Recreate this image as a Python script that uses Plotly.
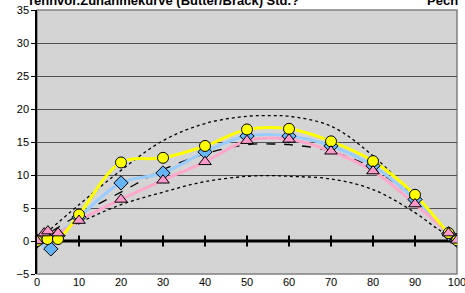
import plotly.graph_objects as go

# Data
x_yellow = [0, 2.5, 5, 10, 20, 30, 40, 50, 60, 70, 80, 90, 98, 100]
y_yellow = [0, 0.3, 0.3, 4.0, 11.9, 12.6, 14.4, 16.9, 17.0, 15.1, 12.1, 7.0, 1.2, 0.1]

x_blue = [0, 3.3, 5, 10, 20, 30, 40, 50, 60, 70, 80, 90, 98, 100]
y_blue = [0, -1.2, 0.8, 3.6, 8.8, 10.3, 13.5, 15.9, 15.9, 14.4, 11.4, 6.3, 1.1, 0.1]

x_pink = [0, 1.7, 2.6, 5, 10, 20, 30, 40, 50, 60, 70, 80, 90, 98, 100]
y_pink = [0, 1.2, 1.5, 1.2, 3.1, 6.3, 9.2, 12.0, 15.2, 15.4, 13.6, 10.6, 5.6, 1.2, 0.1]

x_curve = [0, 10, 20, 30, 40, 50, 56, 60, 70, 80, 90, 95, 100]
y_upper = [0, 5.5, 10.7, 15.2, 17.8, 18.9, 19.0, 18.9, 17.4, 12.9, 6.6, 3.0, 0]
y_mid = [0, 4.0, 7.4, 10.8, 13.2, 14.6, 14.7, 14.6, 13.6, 11.0, 6.3, 3.0, 0]
y_lower = [0, 2.8, 5.5, 7.4, 9.0, 9.8, 9.9, 9.8, 9.4, 7.8, 4.3, 2.0, 0]

x_ticks = [0, 10, 20, 30, 40, 50, 60, 70, 80, 90, 100]
zero_line = [0] * len(x_ticks)

title_left = "Tennvor.Zunahmekurve (Butter/Brack) Std.?"
title_right = "Pech"

fig = go.Figure()

# zero axis with tick marks
fig.add_trace(go.Scatter(x=x_ticks, y=zero_line, mode="lines+markers",
                         line=dict(color="black", width=3),
                         marker=dict(symbol="line-ns-open", size=8,
                                     line=dict(color="black", width=2)),
                         hoverinfo="skip"))

fig.add_trace(go.Scatter(x=x_curve, y=y_upper, mode="lines", line_shape="spline",
                         line=dict(color="black", width=1.3, dash="dot")))
fig.add_trace(go.Scatter(x=x_curve, y=y_mid, mode="lines", line_shape="spline",
                         line=dict(color="black", width=1.3, dash="dash")))
fig.add_trace(go.Scatter(x=x_curve, y=y_lower, mode="lines", line_shape="spline",
                         line=dict(color="black", width=1.3, dash="dot")))

fig.add_trace(go.Scatter(x=x_blue, y=y_blue, mode="lines", line_shape="spline",
                         line=dict(color="#99CCFF", width=3)))
fig.add_trace(go.Scatter(x=x_pink, y=y_pink, mode="lines", line_shape="spline",
                         line=dict(color="#FFA8CC", width=3)))
fig.add_trace(go.Scatter(x=x_yellow, y=y_yellow, mode="lines", line_shape="spline",
                         line=dict(color="#FFFF00", width=3)))

fig.add_trace(go.Scatter(x=x_blue, y=y_blue, mode="markers",
                         marker=dict(symbol="diamond", size=11, color="#66B3F5",
                                     line=dict(color="black", width=1))))
fig.add_trace(go.Scatter(x=x_yellow, y=y_yellow, mode="markers",
                         marker=dict(symbol="circle", size=11, color="#FFFF00",
                                     line=dict(color="black", width=1))))
fig.add_trace(go.Scatter(x=x_pink, y=y_pink, mode="markers",
                         marker=dict(symbol="triangle-up", size=11, color="#FF99CC",
                                     line=dict(color="black", width=1))))

fig.add_shape(type="rect", xref="paper", yref="paper", x0=0, y0=0, x1=1, y1=1,
              line=dict(color="#808080", width=1.5), layer="below")

fig.add_annotation(text=title_left, xref="paper", yref="paper", x=0.30, y=1.0,
                   xanchor="center", yanchor="bottom", showarrow=False,
                   font=dict(family="Liberation Sans, Arial", size=13, color="black", weight="bold"))
fig.add_annotation(text=title_right, xref="paper", yref="paper", x=0.965, y=1.0,
                   xanchor="center", yanchor="bottom", showarrow=False,
                   font=dict(family="Liberation Sans, Arial", size=13, color="black", weight="bold"))

fig.update_layout(
    width=465, height=293,
    margin=dict(l=37, r=8, t=10, b=19, autoexpand=False),
    paper_bgcolor="white", plot_bgcolor="#D4D4D4",
    showlegend=False,
    font=dict(family="Liberation Sans, Arial", size=11, color="black"),
    xaxis=dict(range=[0, 100], tickvals=x_ticks, showgrid=False, zeroline=False,
               showline=False, ticks="", tickfont=dict(size=11), automargin=False,
               ticklabelstandoff=0, ticklabeloverflow="allow"),
    yaxis=dict(range=[-5, 35], dtick=5, showgrid=True, gridcolor="#505050", gridwidth=1,
               zeroline=False, showline=True, linecolor="black", linewidth=1.5,
               ticks="outside", ticklen=4, tickcolor="black", tickfont=dict(size=11),
               automargin=False, ticklabeloverflow="allow"),
)

fig.write_html("out.html", config={"displayModeBar": False},
               post_script="document.body.style.margin='0';document.body.style.overflow='hidden';")
